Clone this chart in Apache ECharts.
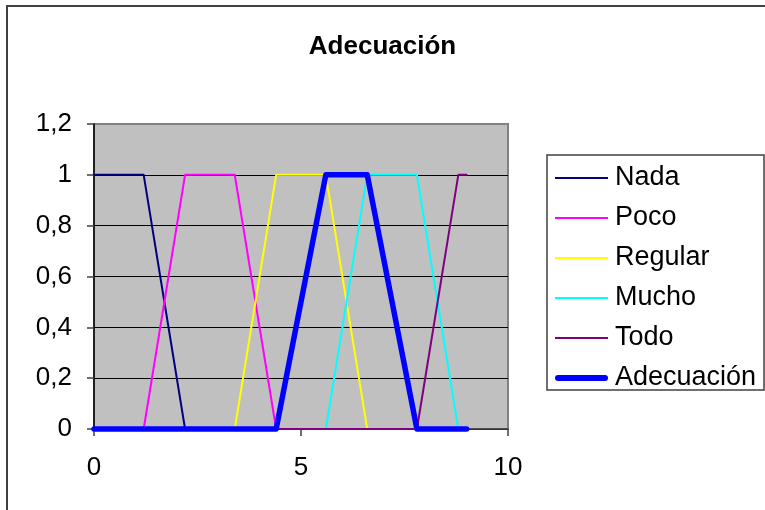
<!DOCTYPE html>
<html>
<head>
<meta charset="utf-8">
<script src="https://cdn.jsdelivr.net/npm/echarts@6/dist/echarts.min.js"></script>
<style>html,body{margin:0;padding:0;background:#fff}#c{width:765px;height:510px}</style>
</head>
<body>
<div id="c"></div>
<script>
var xs = [0, 1.2, 2.2, 3.4, 4.4, 5.6, 6.6, 7.8, 8.8, 9];
var nada = [1, 1, 0, 0, 0, 0, 0, 0, 0, 0];
var poco = [0, 0, 1, 1, 0, 0, 0, 0, 0, 0];
var regular = [0, 0, 0, 0, 1, 1, 0, 0, 0, 0];
var mucho = [0, 0, 0, 0, 0, 0, 1, 1, 0, 0];
var todo = [0, 0, 0, 0, 0, 0, 0, 0, 1, 1];
var adecuacion = [0, 0, 0, 0, 0, 1, 1, 0, 0, 0];
var seriesNames = ['Nada', 'Poco', 'Regular', 'Mucho', 'Todo', 'Adecuación'];
var seriesValues = [nada, poco, regular, mucho, todo, adecuacion];
var seriesColors = ['#000080', '#FF00FF', '#FFFF00', '#00FFFF', '#800080', '#0000FF'];
var seriesWidths = [2, 2, 2, 2, 2, 5.5];
var titleText = 'Adecuación';

var font = 'Liberation Sans, Arial, sans-serif';
function pairs(v) { return xs.map(function (x, i) { return [x, v[i]]; }); }

var thinIcon = 'path://M0,0 L106,0 L106,4 L0,4 Z';
var thickIcon = 'path://M6,0 L100,0 A6,6 0 0 1 100,12 L6,12 A6,6 0 0 1 6,0 Z';

var chart = echarts.init(document.getElementById('c'), null, {renderer: 'canvas'});
chart.setOption({
  animation: false,
  backgroundColor: '#ffffff',
  title: {
    text: titleText, left: 'center', top: 29,
    textStyle: {fontFamily: font, fontSize: 26, fontWeight: 'bold', color: '#000'}
  },
  grid: {
    left: 94, top: 124, right: 257, bottom: 81,
    show: true, backgroundColor: '#C0C0C0', borderColor: '#808080', borderWidth: 2
  },
  xAxis: {
    type: 'value', min: 0, max: 10, interval: 5,
    axisLine: {show: true, onZero: false, lineStyle: {color: '#404040', width: 1.5}},
    axisTick: {show: true, length: 7, lineStyle: {color: '#404040', width: 1.5}},
    axisLabel: {margin: 26, fontFamily: font, fontSize: 26, color: '#000'},
    splitLine: {show: false}
  },
  yAxis: {
    type: 'value', min: 0, max: 1.2, interval: 0.2,
    axisLine: {show: true, lineStyle: {color: '#000', width: 1.5}},
    axisTick: {show: true, length: 7, lineStyle: {color: '#404040', width: 1.5}},
    axisLabel: {
      margin: 22, fontFamily: font, fontSize: 26, color: '#000',
      formatter: function (v) { return String(+v.toFixed(1)).replace('.', ','); }
    },
    splitLine: {show: true, lineStyle: {color: ['#000', '#000', '#000', '#000', '#000', '#000', '#808080'], width: 1.2}}
  },
  legend: {
    orient: 'vertical', left: 555, top: 163, padding: 0,
    itemWidth: 53, itemHeight: 20, itemGap: 10,
    textStyle: {fontFamily: font, fontSize: 27, color: '#000', lineHeight: 30, padding: [0, 0, 0, 2]},
    data: seriesNames.map(function (n, i) {
      return {name: n, icon: i === 5 ? thickIcon : thinIcon};
    })
  },
  graphic: [
    {type: 'polyline', shape: {points: [[7, 520], [7, 6], [780, 6]]}, style: {stroke: '#404040', lineWidth: 2, fill: null}, silent: true},
    {type: 'rect', shape: {x: 547, y: 155, width: 217, height: 235}, style: {stroke: '#404040', lineWidth: 1.5, fill: null}, silent: true, z: -1}
  ],
  series: seriesNames.map(function (n, i) {
    return {
      name: n, type: 'line', data: pairs(seriesValues[i]),
      symbol: 'none', showSymbol: false, clip: false,
      color: seriesColors[i],
      lineStyle: {color: seriesColors[i], width: seriesWidths[i], cap: 'round', join: 'round'},
      z: 2 + i
    };
  })
});
</script>
</body>
</html>
